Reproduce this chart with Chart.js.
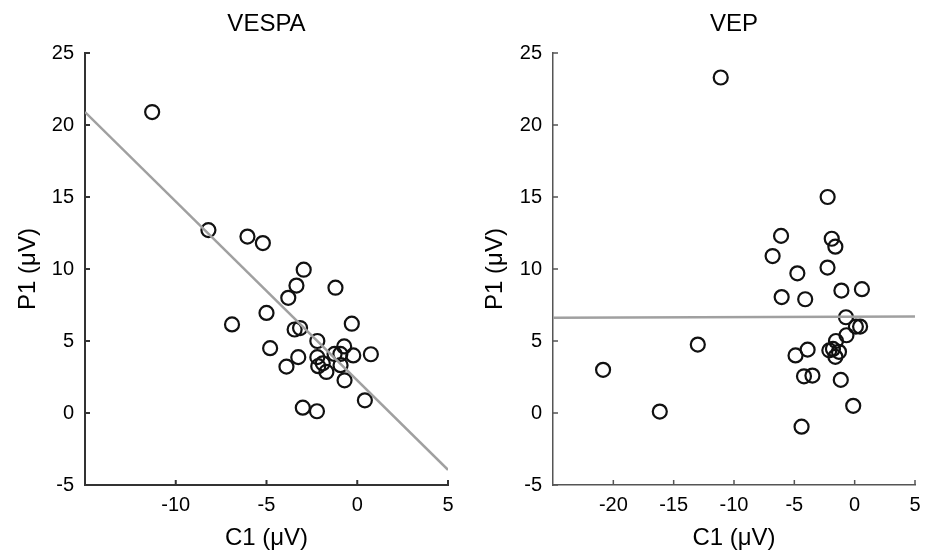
<!DOCTYPE html>
<html>
<head>
<meta charset="utf-8">
<script src="https://cdn.jsdelivr.net/npm/chart.js@4.4.1/dist/chart.umd.min.js"></script>
<style>
  body { margin: 0; background: #fff; }
  #wrap { position: relative; width: 934px; height: 553px; }
  canvas { position: absolute; top: 0; }
</style>
</head>
<body>
<div id="wrap">
  <canvas id="vespa" width="467" height="553" style="left:0"></canvas>
  <canvas id="vep" width="467" height="553" style="left:467px"></canvas>
</div>
<script>
// VESPA panel
const vespaC1 = [-11.3, -8.2, -6.05, -5.2, -2.95, -3.35, -1.2, -3.8, -5.0, -6.9, -0.3, -3.45, -3.15, -2.2, -4.8, -0.72,
                 -1.25, -0.93, -0.22, 0.75, -3.25, -2.2, -3.9, -2.15, -1.9, -1.7, -0.92, -0.7, 0.42, -3.0, -2.22];
const vespaP1 = [20.9, 12.7, 12.25, 11.8, 9.95, 8.85, 8.7, 8.0, 6.95, 6.15, 6.2, 5.8, 5.9, 5.0, 4.5, 4.62,
                 4.1, 4.1, 4.0, 4.08, 3.88, 3.88, 3.22, 3.25, 3.45, 2.85, 3.32, 2.27, 0.88, 0.37, 0.12];
const vespaFitX = [-15, 5];
const vespaFitY = [20.9, -3.95];

// VEP panel
const vepC1 = [-11.1, -2.24, -6.1, -1.9, -1.6, -6.8, -4.75, -2.25, -1.1, 0.6, -6.05, -4.1, -0.72, 0.1, 0.45, -0.68,
               -1.55, -13.0, -3.9, -4.9, -2.1, -1.8, -1.3, -1.6, -20.85, -16.15, -4.2, -3.5, -1.15, -0.12, -4.4];
const vepP1 = [23.3, 15.0, 12.3, 12.1, 11.55, 10.9, 9.7, 10.1, 8.5, 8.6, 8.05, 7.9, 6.65, 6.0, 6.0, 5.4,
               5.0, 4.75, 4.4, 4.0, 4.35, 4.45, 4.25, 3.9, 3.0, 0.1, 2.55, 2.6, 2.3, 0.5, -0.95];
const vepFitX = [-25, 5];
const vepFitY = [6.62, 6.7];

// ticks
const yTicks = [-5, 0, 5, 10, 15, 20, 25];
const vespaXTicks = [-10, -5, 0, 5];
const vepXTicks = [-20, -15, -10, -5, 0, 5];

const FONT = 'Liberation Sans, Arial, Helvetica, sans-serif';

// small tick marks pointing into the plot
const innerTicks = {
  id: 'innerTicks',
  afterDatasetsDraw(chart, args, opts) {
    const ctx = chart.ctx;
    const x = chart.scales.x, y = chart.scales.y;
    ctx.save();
    ctx.strokeStyle = opts.color;
    ctx.lineWidth = opts.width;
    ctx.beginPath();
    x.ticks.forEach(t => {
      const px = x.getPixelForValue(t.value);
      ctx.moveTo(px, x.top);
      ctx.lineTo(px, x.top - opts.length);
    });
    y.ticks.forEach(t => {
      const py = y.getPixelForValue(t.value);
      ctx.moveTo(y.right, py);
      ctx.lineTo(y.right + opts.length, py);
    });
    ctx.stroke();
    ctx.restore();
  }
};

function makePanel(id, title, xs, ys, fitX, fitY, xMin, xTicks, yWidth, axisColor, axisWidth) {
  const pts = xs.map((v, i) => ({ x: v, y: ys[i] }));
  const fit = fitX.map((v, i) => ({ x: v, y: fitY[i] }));
  return new Chart(document.getElementById(id), {
    type: 'scatter',
    data: {
      datasets: [{
        type: 'line',
        data: fit,
        borderColor: '#a0a0a0',
        borderWidth: 2.5,
        pointRadius: 0,
        fill: false
      }, {
        data: pts,
        pointStyle: 'circle',
        pointRadius: 7,
        pointBorderWidth: 2.2,
        borderColor: '#111',
        backgroundColor: 'rgba(0,0,0,0)'
      }]
    },
    options: {
      responsive: false,
      animation: false,
      events: [],
      layout: { padding: { left: 0, right: 19, top: 0, bottom: 0 } },
      plugins: {
        legend: { display: false },
        tooltip: { enabled: false },
        innerTicks: { color: axisColor, width: axisWidth, length: 5 }
      },
      scales: {
        // top axis only carries the panel title, centred over the plot
        top: {
          type: 'linear',
          position: 'top',
          min: xMin,
          max: 5,
          afterFit: s => { s.height = 53; },
          grid: { display: false, drawTicks: false },
          border: { display: false },
          ticks: { display: false },
          title: {
            display: true,
            text: title,
            color: '#000',
            font: { family: FONT, size: 24 },
            padding: { top: 10, bottom: 0 }
          }
        },
        x: {
          type: 'linear',
          min: xMin,
          max: 5,
          afterBuildTicks: s => { s.ticks = xTicks.map(v => ({ value: v })); },
          afterFit: s => { s.height = 68; },
          grid: { display: false, drawTicks: false },
          border: { display: true, color: axisColor, width: axisWidth },
          ticks: { color: '#000', padding: 8, font: { family: FONT, size: 20 }, maxRotation: 0 },
          title: {
            display: true,
            text: 'C1 (μV)',
            color: '#000',
            font: { family: FONT, size: 24 },
            padding: { top: 0, bottom: 0 }
          }
        },
        y: {
          type: 'linear',
          min: -5,
          max: 25,
          afterBuildTicks: s => { s.ticks = yTicks.map(v => ({ value: v })); },
          afterFit: s => { s.width = yWidth; },
          grid: { display: false, drawTicks: false },
          border: { display: true, color: axisColor, width: axisWidth },
          ticks: { color: '#000', padding: 11, font: { family: FONT, size: 20 } },
          title: {
            display: true,
            text: 'P1 (μV)',
            color: '#000',
            font: { family: FONT, size: 24 },
            padding: { top: 14, bottom: 0 }
          }
        }
      }
    },
    plugins: [innerTicks]
  });
}

makePanel('vespa', 'VESPA', vespaC1, vespaP1, vespaFitX, vespaFitY, -15, vespaXTicks, 85, '#333', 2);
makePanel('vep', 'VEP', vepC1, vepP1, vepFitX, vepFitY, -25, vepXTicks, 86, '#555', 1.5);
</script>
</body>
</html>
